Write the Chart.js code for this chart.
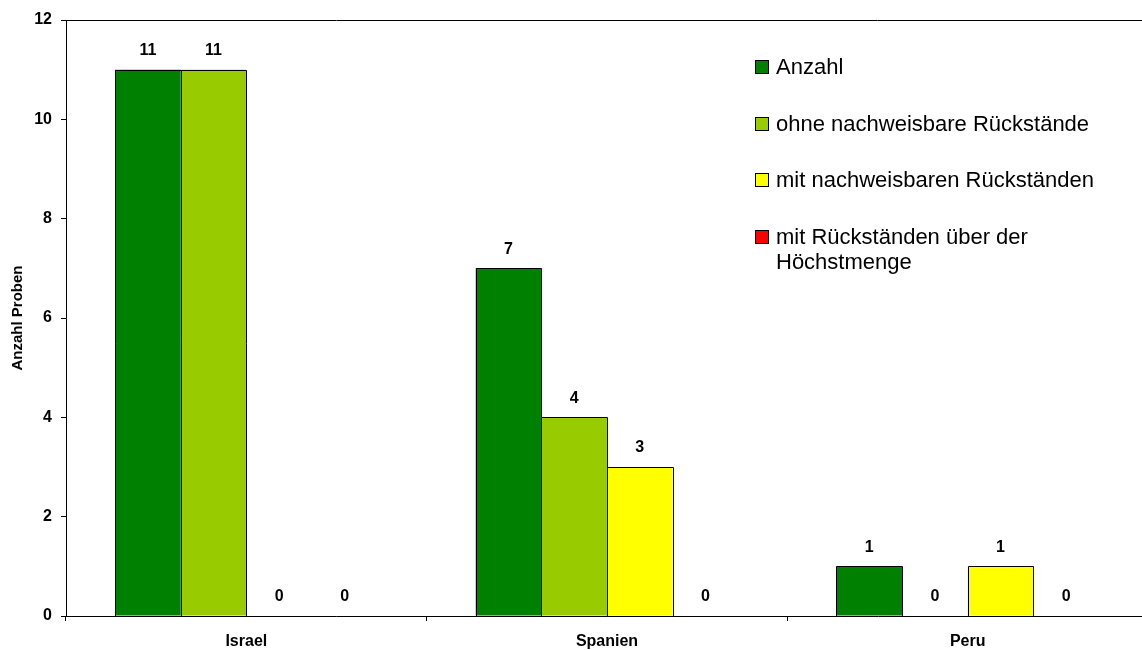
<!DOCTYPE html>
<html>
<head>
<meta charset="utf-8">
<script src="https://cdn.jsdelivr.net/npm/chart.js@4"></script>
<style>
    html, body { margin: 0; padding: 0; background: #fff; overflow: hidden; }
    #wrap { width: 1148px; height: 650px; }
</style>
</head>
<body>
<div id="wrap"><canvas id="probenChart" width="1148" height="650"></canvas></div>
<script>
var categories = ['Israel', 'Spanien', 'Peru'];
var seriesLabels = ['Anzahl', 'ohne nachweisbare Rückstände', 'mit nachweisbaren Rückständen', 'mit Rückständen über der Höchstmenge'];
var anzahl = [11, 7, 1];
var ohneRueckstaende = [11, 4, 0];
var mitRueckstaenden = [0, 3, 1];
var ueberHoechstmenge = [0, 0, 0];
var yTicks = [0, 2, 4, 6, 8, 10, 12];

var seriesColors = ['#008000', '#99CC00', '#FFFF00', '#FF0000'];
var fontName = '"Liberation Sans", Arial, sans-serif';

// crisp black outlines, then value labels above each bar
var valueLabels = {
    id: 'valueLabels',
    afterDatasetsDraw: function(chart) {
        var ctx = chart.ctx;
        ctx.save();
        ctx.strokeStyle = '#000';
        ctx.lineWidth = 1;
        chart.data.datasets.forEach(function(ds, i) {
            var meta = chart.getDatasetMeta(i);
            meta.data.forEach(function(bar, j) {
                if (ds.data[j] === 0) return;
                var l = Math.round(bar.x - bar.width / 2) + 0.5;
                var r = Math.round(bar.x + bar.width / 2) + 0.5;
                var t = Math.round(bar.y) + 0.5;
                var b = Math.round(bar.base) + 0.5;
                ctx.beginPath();
                ctx.moveTo(l, b);
                ctx.lineTo(l, t);
                ctx.lineTo(r, t);
                ctx.lineTo(r, b);
                ctx.stroke();
            });
        });
        ctx.font = 'bold 16px ' + fontName;
        ctx.fillStyle = '#000';
        ctx.textAlign = 'center';
        ctx.textBaseline = 'middle';
        chart.data.datasets.forEach(function(ds, i) {
            var meta = chart.getDatasetMeta(i);
            meta.data.forEach(function(bar, j) {
                ctx.fillText(String(ds.data[j]), bar.x, bar.y - 19);
            });
        });
        ctx.restore();
    }
};

// top border of the plot area
var topBorder = {
    id: 'topBorder',
    afterDraw: function(chart) {
        var a = chart.chartArea;
        var ctx = chart.ctx;
        ctx.save();
        ctx.strokeStyle = '#000';
        ctx.lineWidth = 1;
        ctx.beginPath();
        ctx.moveTo(a.left, Math.round(a.top) + 0.5);
        ctx.lineTo(a.right, Math.round(a.top) + 0.5);
        ctx.stroke();
        ctx.restore();
    }
};

// legend drawn inside the plot, top right
var insideLegend = {
    id: 'insideLegend',
    afterDraw: function(chart) {
        var ctx = chart.ctx;
        var boxX = 755, textX = 776, firstBase = 74, step = 56.5, lineH = 24.5, maxW = 335;
        ctx.save();
        ctx.font = '22px ' + fontName;
        ctx.textAlign = 'left';
        ctx.textBaseline = 'alphabetic';
        chart.data.datasets.forEach(function(ds, i) {
            var base = Math.round(firstBase + i * step);
            ctx.fillStyle = ds.backgroundColor;
            ctx.fillRect(boxX, base - 14, 14, 14);
            ctx.strokeStyle = '#000';
            ctx.lineWidth = 1;
            ctx.strokeRect(boxX + 0.5, base - 13.5, 13, 13);
            ctx.fillStyle = '#000';
            var words = ds.label.split(' ');
            var line = '';
            var y = base;
            for (var w = 0; w < words.length; w++) {
                var test = line ? line + ' ' + words[w] : words[w];
                if (ctx.measureText(test).width > maxW && line) {
                    ctx.fillText(line, textX, y);
                    line = words[w];
                    y += lineH;
                } else {
                    line = test;
                }
            }
            ctx.fillText(line, textX, y);
        });
        ctx.restore();
    }
};

function makeDataset(idx, values) {
    return {
        label: seriesLabels[idx],
        data: values,
        backgroundColor: seriesColors[idx],
        borderWidth: 0,
        inflateAmount: 0,
        categoryPercentage: 0.728,
        barPercentage: 1.0
    };
}

var probenChart = new Chart(document.getElementById('probenChart').getContext('2d'), {
    type: 'bar',
    data: {
        labels: categories,
        datasets: [
            makeDataset(0, anzahl),
            makeDataset(1, ohneRueckstaende),
            makeDataset(2, mitRueckstaenden),
            makeDataset(3, ueberHoechstmenge)
        ]
    },
    options: {
        responsive: false,
        animation: false,
        devicePixelRatio: 1,
        layout: { padding: { top: 20, left: 0, right: 0, bottom: 0 } },
        plugins: {
            legend: { display: false },
            tooltip: { enabled: false }
        },
        scales: {
            x: {
                offset: true,
                grid: { display: true, drawOnChartArea: false, drawTicks: true, tickLength: 5, color: '#000', offset: true },
                border: { display: true, color: '#000', width: 1 },
                ticks: { color: '#000', font: { family: fontName, size: 16, weight: 'bold' }, padding: 11, maxRotation: 0 },
                afterFit: function(scale) { scale.height = 34; }
            },
            y: {
                min: 0,
                max: 12,
                afterBuildTicks: function(scale) {
                    scale.ticks = yTicks.map(function(v) { return { value: v }; });
                },
                grid: { display: true, drawOnChartArea: false, drawTicks: true, tickLength: 5, color: '#000' },
                border: { display: true, color: '#000', width: 1 },
                ticks: { color: '#000', font: { family: fontName, size: 16, weight: 'bold' }, padding: 9 },
                title: {
                    display: true,
                    text: 'Anzahl Proben',
                    color: '#000',
                    font: { family: fontName, size: 15, weight: 'bold' },
                    padding: { top: 9, bottom: 0 }
                },
                afterFit: function(scale) { scale.width = 66; }
            }
        }
    },
    plugins: [valueLabels, topBorder, insideLegend]
});
</script>
</body>
</html>
